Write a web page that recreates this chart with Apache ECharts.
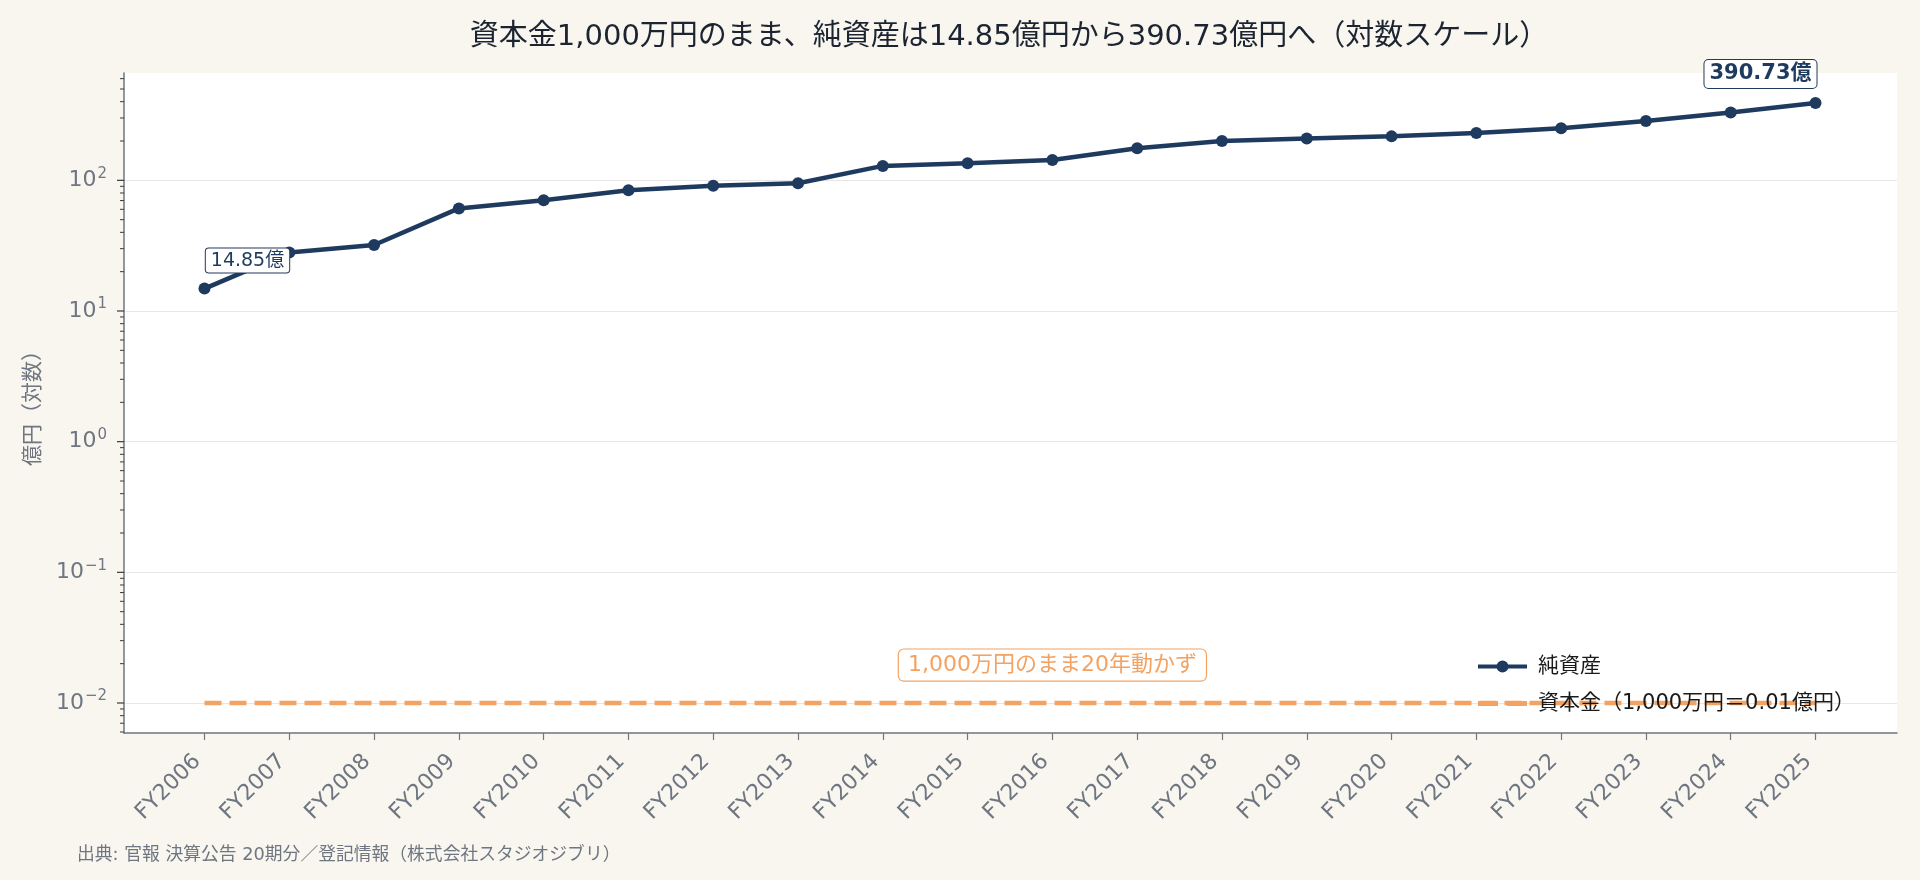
<!DOCTYPE html>
<html><head><meta charset="utf-8">
<script src="https://cdn.jsdelivr.net/npm/echarts@6/dist/echarts.min.js"></script>
<style>html,body{margin:0;padding:0;background:#f9f6f0}#c{width:1920px;height:880px}</style>
</head><body><div id="c"></div>
<script>
const categories = ['FY2006','FY2007','FY2008','FY2009','FY2010','FY2011','FY2012','FY2013','FY2014','FY2015',
  'FY2016','FY2017','FY2018','FY2019','FY2020','FY2021','FY2022','FY2023','FY2024','FY2025'];
const netAssets = [14.85, 28, 32, 61, 70.5, 84, 91, 95, 129, 135, 143, 176, 200, 209, 217, 230, 250, 284, 331, 390.73];
const capital = [0.01,0.01,0.01,0.01,0.01,0.01,0.01,0.01,0.01,0.01,0.01,0.01,0.01,0.01,0.01,0.01,0.01,0.01,0.01,0.01];
const yMajorTicks = [0.01, 0.1, 1, 10, 100];
const yMinorMultipliers = [2,3,4,5,6,7,8,9];
const annotationPoint = ['FY2016', 0.0195];
const titleText = '資本金1,000万円のまま、純資産は14.85億円から390.73億円へ（対数スケール）';
const sourceText = '出典: 官報 決算公告 20期分／登記情報（株式会社スタジオジブリ）';
const yMin = 0.005894, yMax = 662.9;

const FONT = '"DejaVu Sans","Noto Sans CJK JP",sans-serif';
const NAVY = '#1f3a5f', ORANGE = '#f4a261', GRAY = '#6e7681';

// axis tick marks (major + minor) on the log axis
const tickData = [];
yMajorTicks.forEach(v => tickData.push([0, v, 7]));
for (let k = -3; k <= 2; k++) {
  yMinorMultipliers.forEach(m => {
    const v = m * Math.pow(10, k);
    if (v >= yMin && v <= yMax) tickData.push([0, v, 4]);
  });
}

const supMap = e => (e < 0 ? '−' + (-e) : '' + e);

const chart = echarts.init(document.getElementById('c'), null, {renderer: 'canvas'});
chart.setOption({
  backgroundColor: '#f9f6f0',
  animation: false,
  textStyle: {fontFamily: FONT},
  graphic: [
    {type: 'text', x: 1009, y: 37.5, style: {text: titleText, fill: '#1b2430', font: '29px ' + FONT, textAlign: 'center', textVerticalAlign: 'middle'}},
    {type: 'text', x: 77, y: 855, style: {text: sourceText, fill: GRAY, font: '17.8px ' + FONT, textAlign: 'left', textVerticalAlign: 'middle'}}
  ],
  legend: {
    orient: 'vertical', left: 1473, top: 651, itemWidth: 49, itemHeight: 14, itemGap: 16,
    symbolKeepAspect: true,
    data: [
      {name: '純資産', icon: 'path://M0,5.5h49v4h-49z M24.5,1.5a6,6 0 1,1 0,12a6,6 0 1,1 0,-12z', itemStyle: {color: NAVY}},
      {name: '資本金（1,000万円＝0.01億円）', icon: 'path://M0,0h20v5h-20z M29,0h20v5h-20z', itemStyle: {color: ORANGE}}
    ],
    textStyle: {fontSize: 21, color: '#1a1a1a', fontFamily: FONT, padding: [0, 0, 0, 6]}
  },
  grid: [
    {left: 124, top: 73, width: 1773, height: 660, show: true, backgroundColor: '#ffffff', borderWidth: 0},
    {left: 204.5, top: 73, width: 1611, height: 660}
  ],
  xAxis: [
    {gridIndex: 0, type: 'value', min: 0, max: 1, axisLine: {show: true, lineStyle: {color: GRAY, width: 1.5}},
      axisTick: {show: false}, axisLabel: {show: false}, splitLine: {show: false}},
    {gridIndex: 1, type: 'category', data: categories, boundaryGap: false,
      axisLine: {show: false}, axisTick: {show: true, length: 7, lineStyle: {color: GRAY, width: 1.2}},
      axisLabel: {interval: 0, rotate: 45, fontSize: 22, color: GRAY, margin: 18, fontFamily: FONT, padding: [0, 10, 0, 0]},
      splitLine: {show: false}}
  ],
  yAxis: [
    {gridIndex: 0, type: 'log', logBase: 10, min: yMin, max: yMax, splitNumber: 5,
      axisLine: {show: true, lineStyle: {color: GRAY, width: 1.5}},
      axisTick: {show: false},
      splitLine: {show: true, showMinLine: false, showMaxLine: false, lineStyle: {color: '#e6e6e6', width: 1}},
      axisLabel: {margin: 17, color: GRAY, fontSize: 22, fontFamily: FONT,
        formatter: v => {
          const l = Math.log10(v), e = Math.round(l);
          if (Math.abs(l - e) > 1e-6) return '';
          return '{b|10}{s|' + supMap(e) + '}';
        },
        rich: {b: {fontSize: 22, color: GRAY, fontFamily: FONT}, s: {fontSize: 15, color: GRAY, fontFamily: FONT, padding: [0, 0, 13, 1]}}
      },
      name: '億円（対数）', nameLocation: 'middle', nameGap: 80,
      nameTextStyle: {fontSize: 21, color: GRAY, fontFamily: FONT}
    },
    {gridIndex: 1, type: 'log', logBase: 10, min: yMin, max: yMax, splitNumber: 5, show: false,
      axisLine: {show: false}, axisTick: {show: false}, axisLabel: {show: false}, splitLine: {show: false}}
  ],
  series: [
    {
      type: 'custom', name: 'ticks', xAxisIndex: 0, yAxisIndex: 0, silent: true, clip: false, z: 5,
      data: tickData,
      renderItem: (params, api) => {
        const p = api.coord([0, api.value(1)]);
        const len = api.value(2);
        return {type: 'line', shape: {x1: p[0] - len, y1: p[1], x2: p[0], y2: p[1]},
          style: {stroke: '#3a3a3a', lineWidth: len > 5 ? 1.2 : 1}};
      }
    },
    {
      type: 'line', name: '資本金（1,000万円＝0.01億円）', xAxisIndex: 1, yAxisIndex: 1,
      data: capital, symbol: 'none', clip: false, z: 3,
      lineStyle: {color: ORANGE, width: 4.5, type: [17, 8], cap: 'butt'},
      itemStyle: {color: ORANGE},
      markPoint: {
        symbol: 'circle', symbolSize: 1, itemStyle: {color: 'rgba(0,0,0,0)'}, silent: true,
        data: [{coord: annotationPoint, value: 0}],
        label: {show: true, position: 'inside', formatter: '1,000万円のまま20年動かず', color: ORANGE, fontSize: 22,
          fontFamily: FONT, backgroundColor: '#ffffff', borderColor: ORANGE, borderWidth: 1.2, borderRadius: 5, padding: [5, 9, 4, 9]}
      }
    },
    {
      type: 'line', name: '純資産', xAxisIndex: 1, yAxisIndex: 1,
      data: netAssets.map((v, i) => {
        if (i === 0) return {value: v, label: {show: true, position: 'inside', offset: [43, -28], formatter: '14.85億',
          color: NAVY, fontSize: 19, fontFamily: FONT, backgroundColor: '#ffffff', borderColor: NAVY, borderWidth: 1,
          borderRadius: 3, padding: [3, 5, 2, 5]}};
        if (i === netAssets.length - 1) return {value: v, label: {show: true, position: 'inside', offset: [-55, -29], formatter: '390.73億',
          color: NAVY, fontSize: 21, fontWeight: 'bold', fontFamily: FONT, backgroundColor: '#ffffff', borderColor: NAVY, borderWidth: 1,
          borderRadius: 4, padding: [4, 5, 3, 5]}};
        return v;
      }),
      symbol: 'circle', symbolSize: 12, showSymbol: true, clip: false, z: 4,
      lineStyle: {color: NAVY, width: 4.5},
      itemStyle: {color: NAVY},
      label: {show: false}
    }
  ]
});
</script>
</body></html>
